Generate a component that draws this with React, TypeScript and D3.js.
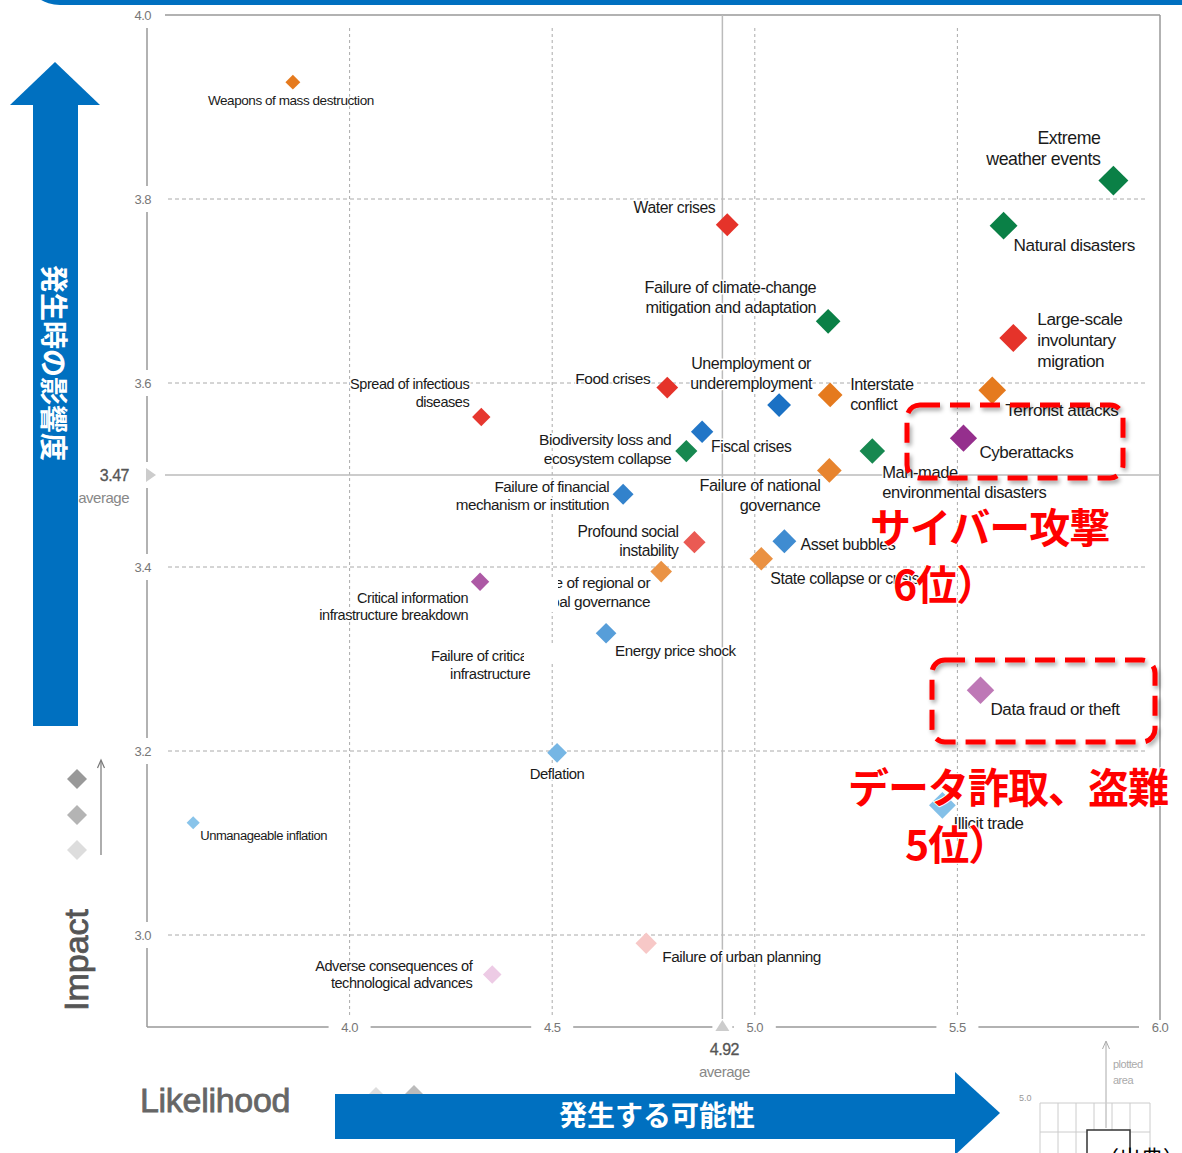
import React from 'react';
import * as d3 from 'd3';

// ---------------- DATA ----------------
const riskNames = [
  'Weapons of mass destruction',
  'Extreme weather events',
  'Natural disasters',
  'Water crises',
  'Failure of climate-change mitigation and adaptation',
  'Large-scale involuntary migration',
  'Terrorist attacks',
  'Interstate conflict',
  'Unemployment or underemployment',
  'Food crises',
  'Spread of infectious diseases',
  'Fiscal crises',
  'Biodiversity loss and ecosystem collapse',
  'Man-made environmental disasters',
  'Cyberattacks',
  'Failure of national governance',
  'Failure of financial mechanism or institution',
  'Profound social instability',
  'Asset bubbles',
  'State collapse or crisis',
  'Failure of regional or global governance',
  'Critical information infrastructure breakdown',
  'Energy price shock',
  'Failure of critical infrastructure',
  'Data fraud or theft',
  'Deflation',
  'Illicit trade',
  'Unmanageable inflation',
  'Failure of urban planning',
  'Adverse consequences of technological advances',
];

const likelihood = [
  3.86, 5.885, 5.614, 4.932, 5.181, 5.638, 5.586, 5.186, 5.06, 4.784,
  4.325, 4.87, 4.831, 5.29, 5.515, 5.184, 4.675, 4.851, 5.073, 5.016,
  4.769, 4.322, 4.633, 4.478, 5.557, 4.512, 5.463, 3.614, 4.732, 4.352,
];

const impact = [
  3.927, 3.82, 3.771, 3.772, 3.667, 3.649, 3.592, 3.587, 3.576, 3.595,
  3.563, 3.547, 3.526, 3.526, 3.54, 3.505, 3.479, 3.427, 3.428, 3.409,
  3.395, 3.384, 3.328, 3.312, 3.266, 3.198, 3.141, 3.122, 2.991, 2.957,
];

const riskCategory = [
  'geo', 'env', 'env', 'soc', 'env', 'soc', 'geo', 'geo', 'eco', 'soc',
  'soc', 'eco', 'env', 'env', 'tech', 'geo', 'eco', 'soc', 'eco', 'geo',
  'geo', 'tech', 'eco', 'eco', 'tech', 'eco', 'eco', 'eco', 'soc', 'tech',
];

const labelLines = [
  ['Weapons of mass destruction'],
  ['Extreme', 'weather events'],
  ['Natural disasters'],
  ['Water crises'],
  ['Failure of climate-change', 'mitigation and adaptation'],
  ['Large-scale', 'involuntary', 'migration'],
  ['Terrorist attacks'],
  ['Interstate', 'conflict'],
  ['Unemployment or', 'underemployment'],
  ['Food crises'],
  ['Spread of infectious', 'diseases'],
  ['Fiscal crises'],
  ['Biodiversity loss and', 'ecosystem collapse'],
  ['Man-made', 'environmental disasters'],
  ['Cyberattacks'],
  ['Failure of national', 'governance'],
  ['Failure of financial', 'mechanism or institution'],
  ['Profound social', 'instability'],
  ['Asset bubbles'],
  ['State collapse or crisis'],
  ['Failure of regional or', 'global governance'],
  ['Critical information', 'infrastructure breakdown'],
  ['Energy price shock'],
  ['Failure of critical', 'infrastructure'],
  ['Data fraud or theft'],
  ['Deflation'],
  ['Illicit trade'],
  ['Unmanageable inflation'],
  ['Failure of urban planning'],
  ['Adverse consequences of', 'technological advances'],
];

// markers not visible in the source graphic
const hiddenMarkers = ['Failure of critical infrastructure'];

const xTicks = [4.0, 4.5, 5.0, 5.5, 6.0];
const yTicks = [4.0, 3.8, 3.6, 3.4, 3.2, 3.0];
const yGrid = [3.8, 3.6, 3.4, 3.2, 3.0];
const xGrid = [4.0, 4.5, 5.0, 5.5];
const avgLikelihood = 4.92;
const avgImpactLabel = '3.47';
const avgImpactDrawn = 3.5; // where the source graphic draws its average line

const categoryKeys = ['eco', 'env', 'geo', 'soc', 'tech'];
const darkColors = ['#1a70c4', '#0a8046', '#e57a1e', '#e5332a', '#8f2487'];
const lightColors = ['#b2e3f8', '#9fdcb8', '#f7cfa4', '#f8d2d2', '#eecde6'];

const annotations = [
  { lines: ['サイバー攻撃', '6位）'] },
  { lines: ['データ詐取、盗難', '5位）'] },
];

// ---------------- LAYOUT ----------------
const W = 1182;
const H = 1153;
// [anchor, dx, dy of first line centre]
const LABEL_LAYOUT: [string, number, number][] = [
  ['middle', -2, 18],
  ['end', -13, -43],
  ['start', 10, 19],
  ['end', -12, -17],
  ['end', -12, -34],
  ['start', 24, -19],
  ['start', 13, 20],
  ['start', 20, -11],
  ['middle', -28, -42],
  ['end', -17, -9],
  ['end', -12, -33],
  ['start', 9, 15],
  ['end', -15, -12],
  ['start', 10, 21],
  ['start', 16, 14],
  ['end', -9, 15],
  ['end', -14, -8],
  ['end', -16, -11],
  ['start', 16, 3],
  ['start', 9, 20],
  ['end', -11, 11],
  ['end', -12, 16],
  ['start', 9, 17],
  ['end', -13, 8],
  ['start', 10, 19],
  ['middle', 0, 21],
  ['start', 11, 18],
  ['start', 7, 13],
  ['start', 16, 13],
  ['end', -20, -9],
];
const ANNOT_LAYOUT = [
  { box: [907, 405, 216, 73], text: [870, 543], text2: [893, 600] },
  { box: [932, 660, 223, 82], text: [848, 803], text2: [905, 860] },
];

const BLUE = '#0070c0';
const LABEL_FONT = '"Liberation Sans", Arial, Helvetica, sans-serif';
const CJK = '"Noto Sans CJK JP", sans-serif';

function diamond(r: number) {
  return `M0,${-r}L${r},0L0,${r}L${-r},0Z`;
}

function upArrow(x: number, yBottom: number, yTop: number, color: string, w = 1.2) {
  return (
    <g>
      <line x1={x} x2={x} y1={yBottom} y2={yTop + 1} stroke={color} strokeWidth={w} />
      <path d={`M${x - 3.5},${yTop + 8}L${x},${yTop}L${x + 3.5},${yTop + 8}`} fill="none" stroke={color} strokeWidth={w} />
    </g>
  );
}

export default function App() {
  const x = d3.scaleLinear().domain([3.5, 6.0]).range([147, 1160]);
  const y = d3.scaleLinear().domain([2.9, 4.0]).range([1027, 15]);
  const rScale = d3.scaleLinear().domain([3.6, 5.9]).range([6.5, 15]).clamp(true);
  const fsScale = d3.scaleLinear().domain([3.6, 5.9]).range([13, 17.8]).clamp(true);
  const shade = d3.scaleLinear().domain([2.95, 3.58]).range([0, 1]).clamp(true);
  const colorOf = (i: number) => {
    const k = categoryKeys.indexOf(riskCategory[i]);
    return d3.interpolateRgb(lightColors[k], darkColors[k])(shade(impact[i]));
  };

  const x0 = x.range()[0];
  const x1 = x.range()[1];
  const y0 = y.range()[0];
  const yTop = y.range()[1];

  return (
    <svg
      width={W}
      height={H}
      viewBox={`0 0 ${W} ${H}`}
      style={{ position: 'absolute', left: 0, top: 0, background: '#fff' }}
    >
      <defs>
        <filter id="shadow" x="-10%" y="-10%" width="120%" height="130%">
          <feDropShadow dx="2" dy="3" stdDeviation="2" floodColor="#000" floodOpacity="0.35" />
        </filter>
      </defs>
      <rect x={0} y={0} width={W} height={H} fill="#fff" />

      {/* grid */}
      {yGrid.map((v) => (
        <line key={'hg' + v} x1={168} x2={1148} y1={y(v)} y2={y(v)} stroke="#aaa" strokeWidth={1} strokeDasharray="4 3" />
      ))}
      {xGrid.map((v) => (
        <line key={'vg' + v} x1={x(v)} x2={x(v)} y1={28} y2={1016} stroke="#aaa" strokeWidth={1} strokeDasharray="3 3" />
      ))}

      {/* frame / axes */}
      <line x1={165} x2={x1} y1={yTop} y2={yTop} stroke="#999" strokeWidth={1.5} />
      <line x1={x1} x2={x1} y1={yTop} y2={1020} stroke="#999" strokeWidth={1.5} />
      <line x1={x0} x2={x0} y1={yTop} y2={y0} stroke="#999" strokeWidth={1.5} />
      <line x1={x0} x2={x1 + 10} y1={y0} y2={y0} stroke="#999" strokeWidth={1.5} />

      {/* average lines */}
      <line x1={x(avgLikelihood)} x2={x(avgLikelihood)} y1={yTop} y2={1020} stroke="#bbb" strokeWidth={1.5} />
      <line x1={165} x2={x1} y1={y(avgImpactDrawn)} y2={y(avgImpactDrawn)} stroke="#bbb" strokeWidth={1.5} />

      {/* y tick labels */}
      {yTicks.map((v) => (
        <g key={'yt' + v}>
          <rect x={125} y={y(v) - 13} width={30} height={26} fill="#fff" />
          <text x={151} y={y(v)} dominantBaseline="central" textAnchor="end" fontSize={13} fill="#777" fontFamily={LABEL_FONT} letterSpacing={-0.5}>
            {v.toFixed(1)}
          </text>
        </g>
      ))}
      {/* x tick labels */}
      {xTicks.map((v) => (
        <g key={'xt' + v}>
          <rect x={x(v) - 21} y={y0 - 6} width={42} height={12} fill="#fff" />
          <text x={x(v)} y={y0} dominantBaseline="central" textAnchor="middle" fontSize={13} fill="#777" fontFamily={LABEL_FONT} letterSpacing={-0.5}>
            {v.toFixed(1)}
          </text>
        </g>
      ))}

      {/* average markers & labels */}
      <rect x={140} y={y(avgImpactDrawn) - 13} width={16} height={26} fill="#fff" />
      <path d={`M${x0 - 1},${y(avgImpactDrawn) - 7}L${x0 + 9},${y(avgImpactDrawn)}L${x0 - 1},${y(avgImpactDrawn) + 7}Z`} fill="#ccc" />
      <text x={129} y={y(avgImpactDrawn)} dominantBaseline="central" textAnchor="end" fontSize={16} fill="#555" fontFamily={LABEL_FONT} letterSpacing={-0.5} stroke="#555" strokeWidth={0.3}>
        {avgImpactLabel}
      </text>
      <text x={129} y={y(avgImpactDrawn) + 22} dominantBaseline="central" textAnchor="end" fontSize={15} fill="#888" fontFamily={LABEL_FONT} letterSpacing={-0.5}>
        average
      </text>
      <rect x={x(avgLikelihood) - 10} y={1019} width={20} height={16} fill="#fff" />
      <path d={`M${x(avgLikelihood) - 7},${y0 + 4}L${x(avgLikelihood)},${y0 - 7}L${x(avgLikelihood) + 7},${y0 + 4}Z`} fill="#ccc" />
      <text x={x(avgLikelihood) + 2} y={1049} dominantBaseline="central" textAnchor="middle" fontSize={16} fill="#555" fontFamily={LABEL_FONT} letterSpacing={-0.5} stroke="#555" strokeWidth={0.3}>
        {avgLikelihood.toFixed(2)}
      </text>
      <text x={x(avgLikelihood) + 2} y={1071} dominantBaseline="central" textAnchor="middle" fontSize={15} fill="#888" fontFamily={LABEL_FONT} letterSpacing={-0.5}>
        average
      </text>

      {/* labels */}
      {riskNames.map((name, i) => {
        const [anchor, dx, dy] = LABEL_LAYOUT[i];
        const fs = fsScale(likelihood[i]);
        const lh = fs * 1.22;
        const cx = x(likelihood[i]) + dx;
        const cy = y(impact[i]) + dy;
        return (
          <g key={'lb' + name}>
            {labelLines[i].map((ln, j) => (
              <text
                key={j}
                x={cx}
                y={cy + j * lh}
                dominantBaseline="central"
                textAnchor={anchor as any}
                fontSize={fs}
                fill="#1a1a1a"
                fontFamily={LABEL_FONT}
                letterSpacing={-0.45}
                stroke="#fff"
                strokeWidth={3}
                strokeLinejoin="round"
                style={{ paintOrder: 'stroke' }}
              >
                {ln}
              </text>
            ))}
          </g>
        );
      })}

      {/* markers */}
      {riskNames.map((name, i) =>
        hiddenMarkers.includes(name) ? null : (
          <path
            key={'mk' + name}
            d={diamond(rScale(likelihood[i]))}
            transform={`translate(${x(likelihood[i])},${y(impact[i])})`}
            fill={colorOf(i)}
          />
        )
      )}

      {/* occluding patches in the source */}
      <rect x={518} y={577} width={40} height={35} fill="#fff" />
      <rect x={524} y={646} width={36} height={16} fill="#fff" />

      {/* impact legend */}
      <path d={diamond(10)} transform="translate(77,779)" fill="#999" />
      <path d={diamond(10)} transform="translate(77,815)" fill="#b4b4b4" />
      <path d={diamond(10)} transform="translate(77,850)" fill="#ddd" />
      {upArrow(101, 855, 760, '#777')}
      <text transform="translate(88,960) rotate(-90)" textAnchor="middle" fontSize={34} fill="#555" fontFamily={LABEL_FONT} stroke="#555" strokeWidth={0.8}>
        Impact
      </text>
      <text x={140} y={1112} fontSize={34} fill="#666" fontFamily={LABEL_FONT} stroke="#666" strokeWidth={0.8} letterSpacing={-0.3}>
        Likelihood
      </text>
      <path d={diamond(9)} transform="translate(376,1096)" fill="#ddd" />
      <path d={diamond(9)} transform="translate(414,1094)" fill="#bbb" />

      {/* plotted area inset */}
      {upArrow(1106, 1128, 1041, '#aaa', 1)}
      <text x={1113} y={1068} fontSize={11} fill="#aaa" fontFamily={LABEL_FONT} letterSpacing={-0.5}>plotted</text>
      <text x={1113} y={1084} fontSize={11} fill="#aaa" fontFamily={LABEL_FONT} letterSpacing={-0.5}>area</text>
      <text x={1019} y={1101} fontSize={9} fill="#999" fontFamily={LABEL_FONT}>5.0</text>
      {[1040, 1058, 1076, 1094, 1112, 1130, 1150].map((gx) => (
        <line key={'ix' + gx} x1={gx} x2={gx} y1={1103} y2={H} stroke="#ccc" strokeWidth={1} />
      ))}
      {[1103, 1132].map((gy) => (
        <line key={'iy' + gy} x1={1040} x2={1150} y1={gy} y2={gy} stroke="#ccc" strokeWidth={1} />
      ))}
      <rect x={1087} y={1130} width={43} height={30} fill="#fff" stroke="#333" strokeWidth={1.5} />
      <text x={1097} y={1166} fontSize={22} fill="#000" fontFamily={CJK}>（出典）：</text>

      {/* blue arrows */}
      <rect x={30} y={-40} width={W} height={45} rx={30} fill={BLUE} />
      <rect x={33} y={104} width={45} height={622} fill={BLUE} />
      <path d="M10,105L100,105L55,62Z" fill={BLUE} />
      <text transform="translate(55,363) rotate(90)" textAnchor="middle" dominantBaseline="central" fontSize={28} fontWeight="bold" fill="#fff" fontFamily={CJK}>
        発生時の影響度
      </text>
      <rect x={335} y={1094} width={621} height={45} fill={BLUE} />
      <path d="M955,1072L1000,1113L955,1155Z" fill={BLUE} />
      <text x={657} y={1114} textAnchor="middle" dominantBaseline="central" fontSize={28} fontWeight="bold" fill="#fff" fontFamily={CJK}>
        発生する可能性
      </text>

      {/* red annotations */}
      {annotations.map((a, k) => {
        const L = ANNOT_LAYOUT[k];
        const [bx, by, bw, bh] = L.box;
        return (
          <g key={'an' + k}>
            <rect x={bx} y={by} width={bw} height={bh} rx={13} fill="none" stroke="#ff0000" strokeWidth={5} strokeDasharray="20 10" filter="url(#shadow)" />
            <text x={L.text[0]} y={L.text[1]} fontSize={41} fontWeight="bold" fill="#ff0000" fontFamily={CJK} letterSpacing={-1} stroke="#fff" strokeWidth={2} style={{ paintOrder: 'stroke' }}>
              {a.lines[0]}
            </text>
            <text x={L.text2[0]} y={L.text2[1]} fontSize={41} fontWeight="bold" fill="#ff0000" fontFamily={CJK} letterSpacing={-1} stroke="#fff" strokeWidth={2} style={{ paintOrder: 'stroke' }}>
              {a.lines[1]}
            </text>
          </g>
        );
      })}
    </svg>
  );
}
